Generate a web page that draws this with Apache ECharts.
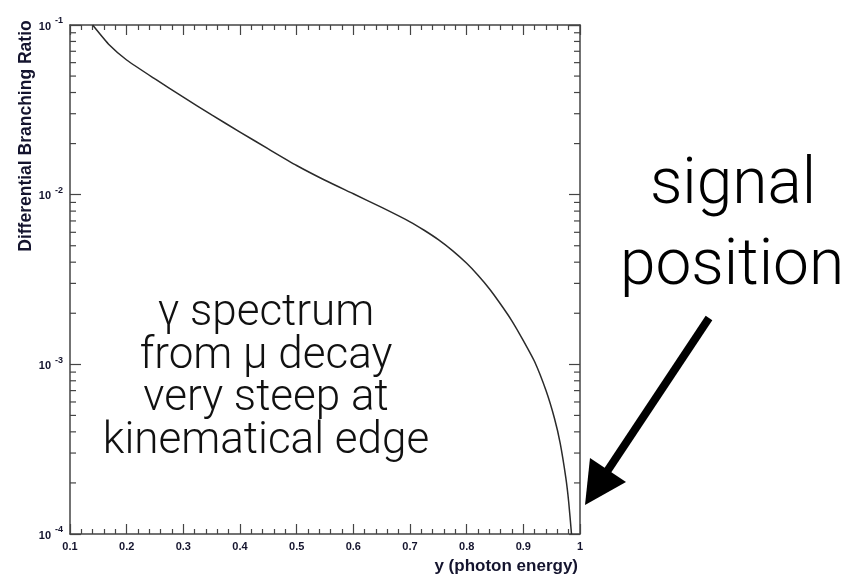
<!DOCTYPE html>
<html>
<head>
<meta charset="utf-8">
<script src="https://cdn.jsdelivr.net/npm/echarts@6/dist/echarts.min.js"></script>
<style>
  html, body { margin: 0; padding: 0; background: #fff; }
  #chart { width: 848px; height: 576px; }
</style>
</head>
<body>
<div id="chart"></div>
<script>
// ---- data ----
var photonEnergy = [0.14, 0.17, 0.2, 0.25, 0.3, 0.35, 0.4, 0.45, 0.5, 0.55, 0.6, 0.65,
                    0.7, 0.725, 0.75, 0.775, 0.8, 0.82, 0.84, 0.86, 0.88, 0.9, 0.92, 0.94,
                    0.955, 0.965, 0.975, 0.98, 0.985];
var branchingRatio = [0.1, 0.0759, 0.0622, 0.0481, 0.0376, 0.0295, 0.0234, 0.0186, 0.01486, 0.01216,
                      0.01012, 0.00841, 0.00692, 0.00617, 0.00543, 0.00468, 0.00394, 0.00335,
                      0.00279, 0.00226, 0.00180, 0.00138, 0.001035, 0.000700, 0.000479,
                      0.000343, 0.000214, 0.000155, 0.0001];
var xTickValues = [0.1, 0.2, 0.3, 0.4, 0.5, 0.6, 0.7, 0.8, 0.9, 1];
var xTickLabels = ['0.1', '0.2', '0.3', '0.4', '0.5', '0.6', '0.7', '0.8', '0.9', '1'];
var yDecades = [0.0001, 0.001, 0.01, 0.1];
var yExponents = ['-4', '-3', '-2', '-1'];
var yMinorTicks = [];
[0.0001, 0.001, 0.01].forEach(function (d) {
  for (var m = 2; m <= 9; m++) yMinorTicks.push(m * d);
});
var annotationText = ['γ spectrum', 'from μ decay', 'very steep at', 'kinematical edge'];
var calloutText = ['signal', 'position'];
var xTitle = 'y (photon energy)';
var yTitle = 'Differential Branching Ratio';

var axisColor = '#444';
var labelColor = '#14142e';
var labelFont = 'Liberation Sans';

function xLabel(v) {
  for (var i = 0; i < xTickValues.length; i++) {
    if (Math.abs(xTickValues[i] - v) < 1e-6) return xTickLabels[i];
  }
  return '';
}
function yLabel(v) {
  for (var i = 0; i < yDecades.length; i++) {
    if (Math.abs(Math.log10(yDecades[i]) - Math.log10(v)) < 1e-6) return '{a|10}{b|' + yExponents[i] + '}';
  }
  return '';
}

var chart = echarts.init(document.getElementById('chart'), null, { renderer: 'canvas' });

var xCommon = {
  type: 'value', min: 0.1, max: 1, interval: 0.1,
  axisLine: { show: true, onZero: false, lineStyle: { color: axisColor, width: 1.5 } },
  axisTick: { show: true, inside: true, length: 10, lineStyle: { color: axisColor, width: 1.2 } },
  minorTick: { show: true, splitNumber: 5, length: 5, lineStyle: { color: axisColor, width: 1.2 } },
  splitLine: { show: false }
};
var yCommon = {
  type: 'log', logBase: 10, min: 0.0001, max: 0.1,
  axisLine: { show: true, onZero: false, lineStyle: { color: axisColor, width: 1.5 } },
  axisTick: { show: true, inside: true, length: 11, lineStyle: { color: axisColor, width: 1.2 } },
  splitLine: { show: false }
};

var option = {
  backgroundColor: '#fff',
  animation: false,
  grid: { left: 70, right: 268, top: 25, bottom: 42, containLabel: false },
  xAxis: [
    Object.assign({}, xCommon, {
      position: 'bottom',
      axisLabel: {
        show: true, margin: 7, color: labelColor, fontFamily: labelFont,
        fontWeight: 'bold', fontSize: 11, formatter: xLabel
      }
    }),
    Object.assign({}, xCommon, { position: 'top', axisLabel: { show: false } })
  ],
  yAxis: [
    Object.assign({}, yCommon, {
      position: 'left',
      axisLabel: {
        show: true, margin: 7, formatter: yLabel,
        rich: {
          a: { fontSize: 11, fontWeight: 'bold', fontFamily: labelFont, color: labelColor, padding: [3, 0, 0, 0] },
          b: { fontSize: 9, fontWeight: 'bold', fontFamily: labelFont, color: labelColor, padding: [0, 0, 8, 4] }
        }
      }
    }),
    Object.assign({}, yCommon, { position: 'right', axisLabel: { show: false } })
  ],
  series: [
    {
      type: 'line', xAxisIndex: 0, yAxisIndex: 0,
      data: photonEnergy.map(function (x, i) { return [x, branchingRatio[i]]; }),
      showSymbol: false, smooth: 0.2,
      lineStyle: { color: '#2a2a2a', width: 1.5 },
      z: 3
    },
    {
      type: 'custom', xAxisIndex: 0, yAxisIndex: 0, silent: true,
      data: yMinorTicks.map(function (v) { return [0.1, v]; }),
      renderItem: function (params, api) {
        var v = api.value(1);
        var pl = api.coord([0.1, v]);
        var pr = api.coord([1, v]);
        var st = { stroke: axisColor, lineWidth: 1.2 };
        return {
          type: 'group', children: [
            { type: 'line', shape: { x1: pl[0], y1: pl[1], x2: pl[0] + 6, y2: pl[1] }, style: st },
            { type: 'line', shape: { x1: pr[0], y1: pr[1], x2: pr[0] - 6, y2: pr[1] }, style: st }
          ]
        };
      },
      clip: false, z: 2
    }
  ],
  graphic: [
    {
      type: 'text', x: 26, y: 136, rotation: Math.PI / 2,
      style: { text: yTitle, fill: labelColor, font: 'bold 17.5px "Liberation Sans"', textAlign: 'center', textVerticalAlign: 'middle' }
    },
    {
      type: 'text', x: 578, y: 566,
      style: { text: xTitle, fill: labelColor, font: 'bold 17px "Liberation Sans"', textAlign: 'right', textVerticalAlign: 'middle' }
    },
    {
      type: 'text', x: 266, y: 378,
      style: { text: annotationText.join('\n'), fill: '#111', font: '300 44px Roboto', lineHeight: 42.5, textAlign: 'center', textVerticalAlign: 'middle' }
    },
    {
      type: 'text', x: 733, y: 187,
      style: { text: calloutText[0], fill: '#000', font: '300 64px Roboto', textAlign: 'center', textVerticalAlign: 'middle' }
    },
    {
      type: 'text', x: 732, y: 268,
      style: { text: calloutText[1], fill: '#000', font: '300 64px Roboto', textAlign: 'center', textVerticalAlign: 'middle' }
    },
    {
      type: 'line', shape: { x1: 709, y1: 318, x2: 604, y2: 476 },
      style: { stroke: '#000', lineWidth: 8 }
    },
    {
      type: 'polygon', shape: { points: [[585, 505], [590, 458], [626, 482]] },
      style: { fill: '#000' }
    }
  ]
};
chart.setOption(option);
</script>
</body>
</html>
